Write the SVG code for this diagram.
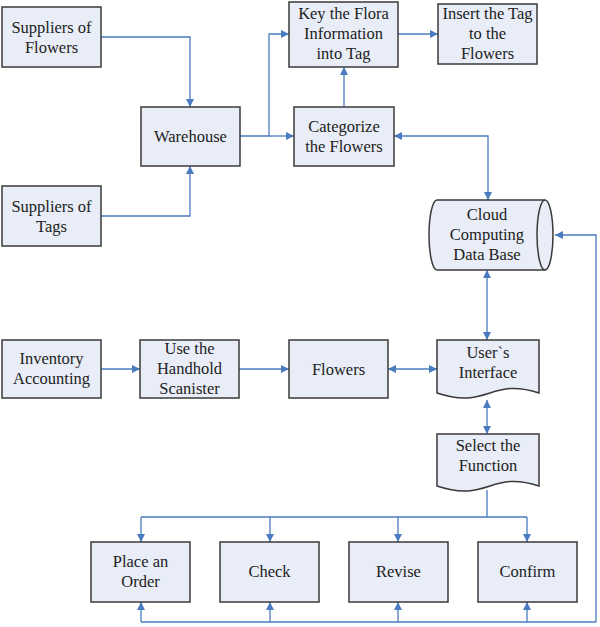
<svg xmlns="http://www.w3.org/2000/svg" width="600" height="627" viewBox="0 0 600 627">
<defs>
<marker id="ah" viewBox="0 0 10 10" refX="10" refY="5" markerWidth="9" markerHeight="8" markerUnits="userSpaceOnUse" orient="auto-start-reverse">
<path d="M0,0 L10,5 L0,10 Z" fill="#4A7BC0"/>
</marker>
</defs>
<style>
.box{fill:#E9EDF7;stroke:#3A3A3A;stroke-width:1.5}
.c{fill:none;stroke:#4A7BC0;stroke-width:1.3}
.e{marker-end:url(#ah)}
.b{marker-start:url(#ah);marker-end:url(#ah)}
</style>
<rect width="600" height="627" fill="#fff"/>
<g id="connectors">
<path class="c e" d="M101,37 H190 V107"/>
<path class="c e" d="M101,216 H190 V166"/>
<path class="c e" d="M240,136 H269 V34 H289"/>
<path class="c e" d="M269,136 H294"/>
<path class="c e" d="M344,107 V67"/>
<path class="c e" d="M398,34 H438"/>
<path class="c b" d="M394,136 H488 V200"/>
<path class="c b" d="M487,270 V340"/>
<path class="c e" d="M101,369 H140"/>
<path class="c e" d="M239,369 H289"/>
<path class="c b" d="M388,369 H437"/>
<path class="c b" d="M487,400 V434"/>
<path class="c" d="M487,490 V517 M141,517 H527"/>
<path class="c e" d="M141,517 V542"/>
<path class="c e" d="M270,517 V542"/>
<path class="c e" d="M398,517 V542"/>
<path class="c e" d="M527,517 V542"/>
<path class="c" d="M141,622 H596"/>
<path class="c e" d="M141,622 V602"/>
<path class="c e" d="M270,622 V602"/>
<path class="c e" d="M398,622 V602"/>
<path class="c e" d="M527,622 V602"/>
<path class="c e" d="M596,622 V235 H555"/>
</g>
<g fill="#222" text-anchor="middle" font-size="16.5">
<g id="suppliers-flowers"><rect class="box" x="2" y="7" width="99" height="60"/><text style="font-family:'Liberation Serif',serif" x="51.5" y="33">Suppliers of</text><text style="font-family:'Liberation Serif',serif" x="51.5" y="53">Flowers</text></g>
<g id="warehouse"><rect class="box" x="141" y="107" width="99" height="59"/><text style="font-family:'Liberation Serif',serif" x="190.5" y="142">Warehouse</text></g>
<g id="suppliers-tags"><rect class="box" x="2" y="186" width="99" height="60"/><text style="font-family:'Liberation Serif',serif" x="51.5" y="212">Suppliers of</text><text style="font-family:'Liberation Serif',serif" x="51.5" y="232">Tags</text></g>
<g id="key-flora"><rect class="box" x="289" y="2" width="109" height="65"/><text style="font-family:'Liberation Serif',serif" x="343.5" y="19">Key the Flora</text><text style="font-family:'Liberation Serif',serif" x="343.5" y="39">Information</text><text style="font-family:'Liberation Serif',serif" x="343.5" y="59">into Tag</text></g>
<g id="insert-tag"><rect class="box" x="438" y="4" width="99" height="60"/><text style="font-family:'Liberation Serif',serif" x="487.5" y="19">Insert the Tag</text><text style="font-family:'Liberation Serif',serif" x="487.5" y="39">to the</text><text style="font-family:'Liberation Serif',serif" x="487.5" y="59">Flowers</text></g>
<g id="categorize"><rect class="box" x="294" y="107" width="100" height="59"/><text style="font-family:'Liberation Serif',serif" x="344" y="132">Categorize</text><text style="font-family:'Liberation Serif',serif" x="344" y="152">the Flowers</text></g>
<g id="database"><path class="box" d="M437,200 H545 A8,35 0 0 1 545,270 H437 A8,35 0 0 1 437,200 Z"/><path fill="none" stroke="#3A3A3A" stroke-width="1.5" d="M545,200 A8,35 0 0 0 545,270"/><text style="font-family:'Liberation Serif',serif" x="487" y="220">Cloud</text><text style="font-family:'Liberation Serif',serif" x="487" y="240">Computing</text><text style="font-family:'Liberation Serif',serif" x="487" y="260">Data Base</text></g>
<g id="inventory"><rect class="box" x="2" y="340" width="99" height="58"/><text style="font-family:'Liberation Serif',serif" x="51.5" y="364">Inventory</text><text style="font-family:'Liberation Serif',serif" x="51.5" y="384">Accounting</text></g>
<g id="handhold"><rect class="box" x="140" y="340" width="99" height="58"/><text style="font-family:'Liberation Serif',serif" x="189.5" y="354">Use the</text><text style="font-family:'Liberation Serif',serif" x="189.5" y="374">Handhold</text><text style="font-family:'Liberation Serif',serif" x="189.5" y="394">Scanister</text></g>
<g id="flowers"><rect class="box" x="289" y="340" width="99" height="58"/><text style="font-family:'Liberation Serif',serif" x="338.5" y="375">Flowers</text></g>
<g id="user-interface"><path class="box" d="M437,340 H539 V393 C490,377 488,410 437,393 Z"/><text style="font-family:'Liberation Serif',serif" x="488" y="358">User`s</text><text style="font-family:'Liberation Serif',serif" x="488" y="378">Interface</text></g>
<g id="select-function"><path class="box" d="M437,434 H539 V486 C490,470 488,503 437,486 Z"/><text style="font-family:'Liberation Serif',serif" x="488" y="451">Select the</text><text style="font-family:'Liberation Serif',serif" x="488" y="471">Function</text></g>
<g id="place-order"><rect class="box" x="91" y="542" width="99" height="60"/><text style="font-family:'Liberation Serif',serif" x="140.5" y="567">Place an</text><text style="font-family:'Liberation Serif',serif" x="140.5" y="587">Order</text></g>
<g id="check"><rect class="box" x="220" y="542" width="99" height="60"/><text style="font-family:'Liberation Serif',serif" x="269.5" y="577">Check</text></g>
<g id="revise"><rect class="box" x="349" y="542" width="99" height="60"/><text style="font-family:'Liberation Serif',serif" x="398.5" y="577">Revise</text></g>
<g id="confirm"><rect class="box" x="478" y="542" width="99" height="60"/><text style="font-family:'Liberation Serif',serif" x="527.5" y="577">Confirm</text></g>
</g>
</svg>
